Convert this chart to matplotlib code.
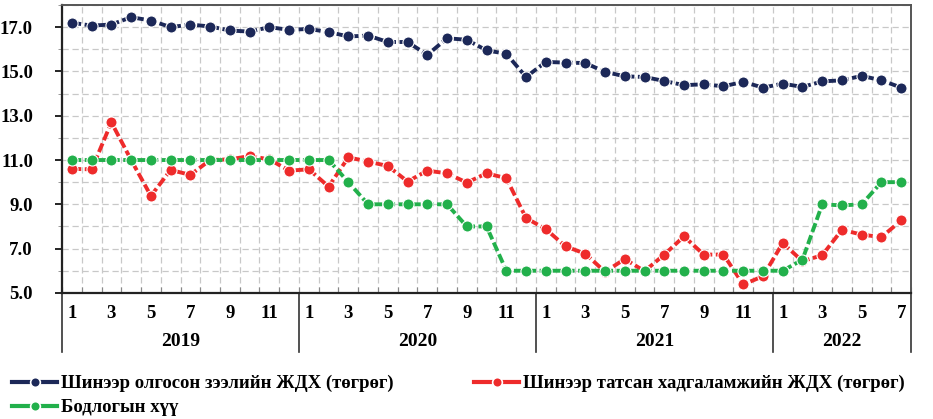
import numpy as np
import matplotlib
matplotlib.use('Agg')
import matplotlib.pyplot as plt
from matplotlib.lines import Line2D
from matplotlib.ticker import FixedLocator, MultipleLocator

plt.rcParams['font.family'] = ['Liberation Serif', 'DejaVu Serif']
plt.rcParams['font.weight'] = 'bold'

# ----- Data -----
years = ['2019', '2020', '2021', '2022']
months_per_year = [12, 12, 12, 7]

loan_rate = [17.2, 17.07, 17.12, 17.45, 17.3, 17.0, 17.12, 17.03, 16.85, 16.8, 17.0, 16.88,
             16.92, 16.78, 16.58, 16.62, 16.33, 16.33, 15.75, 16.5, 16.43, 15.95, 15.8, 14.75,
             15.43, 15.4, 15.38, 14.98, 14.78, 14.75, 14.57, 14.38, 14.42, 14.33, 14.53, 14.27,
             14.45, 14.3, 14.55, 14.6, 14.8, 14.6, 14.27]
deposit_rate = [10.6, 10.58, 12.7, 11.0, 9.38, 10.55, 10.33, 11.0, 11.03, 11.18, 11.03, 10.52,
                10.58, 9.8, 11.12, 10.93, 10.73, 10.03, 10.52, 10.4, 9.98, 10.4, 10.18, 8.38,
                7.88, 7.1, 6.77, 5.95, 6.53, 5.98, 6.73, 7.55, 6.73, 6.73, 5.38, 5.75,
                7.25, 6.43, 6.7, 7.85, 7.63, 7.52, 8.27]
policy_rate = [11.0] * 14 + [10.0, 9.0, 9.0, 9.0, 9.0, 9.0, 8.0, 8.0] + [6.0] * 15 + \
              [6.5, 9.0, 8.95, 9.0, 10.0, 10.0]

labels = ['Шинээр олгосон зээлийн ЖДХ (төгрөг)',
          'Шинээр татсан хадгаламжийн ЖДХ (төгрөг)',
          'Бодлогын хүү']
colors = ['#1c2858', '#ee2b2b', '#22b04b']

# month numbers for each point
months = []
for n in months_per_year:
    months += list(range(1, n + 1))
x = np.arange(len(months))

# ----- Plot -----
fig = plt.figure(figsize=(9.33, 4.19), dpi=100)
ax = fig.add_axes([0.0665, 0.301, 0.91, 0.687])

for vals, c, lab in zip([loan_rate, deposit_rate, policy_rate], colors, labels):
    ax.plot(x, vals, color=c, lw=2.8, linestyle=(0, (2.4, 0.9)),
            marker='o', markersize=8, markerfacecolor=c,
            markeredgecolor='white', markeredgewidth=0.8,
            dash_capstyle='butt')

ax.set_xlim(-0.5, len(x) - 0.5)
ax.set_ylim(5, 18)

yt = [5, 7, 9, 11, 13, 15, 17]
ax.yaxis.set_major_locator(FixedLocator(yt))
ax.yaxis.set_minor_locator(MultipleLocator(1))
ax.set_yticklabels(['%.1f' % v for v in yt])

tick_idx = [i for i, m in enumerate(months) if m % 2 == 1]
ax.set_xticks(tick_idx)
ax.set_xticklabels([str(months[i]) for i in tick_idx])
ax.xaxis.set_minor_locator(FixedLocator(np.arange(-0.5, len(x), 1.0)))

ax.tick_params(axis='x', which='major', length=0, pad=9, labelsize=13.5)
ax.tick_params(axis='x', which='minor', direction='in', length=4, width=0.8, color='#888888')
ax.tick_params(axis='y', which='major', length=5, width=1.2, labelsize=13.5, pad=16)
ax.tick_params(axis='y', which='minor', length=3, color='#888888')

ax.grid(True, which='minor', axis='x', color='#c8c8c8', linestyle=(0, (5, 3)), lw=0.9)
ax.grid(True, which='both', axis='y', color='#c8c8c8', linestyle=(0, (5, 3)), lw=0.9)
ax.set_axisbelow(True)

for s in ['left', 'bottom']:
    ax.spines[s].set_color('#222222')
    ax.spines[s].set_linewidth(1.6)
for s in ['top', 'right']:
    ax.spines[s].set_color('#555555')
    ax.spines[s].set_linewidth(1.4)

# year separators and year labels
start = 0
bounds = [-0.5]
for yr, n in zip(years, months_per_year):
    ax.text(start + (n - 1) / 2, -0.17, yr, transform=ax.get_xaxis_transform(),
            ha='center', va='center', fontsize=14, fontweight='bold')
    start += n
    bounds.append(start - 0.5)
for b in bounds:
    ax.plot([b, b], [0, -0.205], transform=ax.get_xaxis_transform(),
            color='#333333', lw=1.2, clip_on=False)

# legend handles: solid dash, dot, dash
handles = [Line2D([], [], color=c, lw=3, marker='o', markersize=7,
                  markeredgecolor='white', markeredgewidth=1.2) for c in colors]
# order so that row 1 = loan, deposit; row 2 = policy rate
order = [0, 2, 1]
fig.legend([handles[i] for i in order], [labels[i] for i in order], loc='upper left',
           bbox_to_anchor=(-0.005, 0.145), ncol=2, frameon=False,
           fontsize=13.5, handlelength=2.4, handletextpad=0.2, columnspacing=4.3,
           labelspacing=0.35)

fig.savefig('out.png', dpi=100)
